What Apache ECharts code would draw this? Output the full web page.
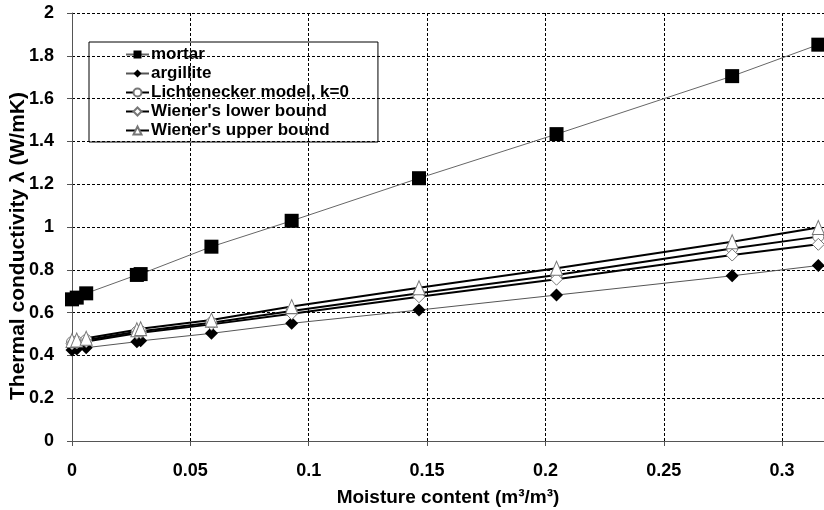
<!DOCTYPE html>
<html>
    <head>
        <meta charset="UTF-8">
        <title>Thermal conductivity vs moisture</title>
        <script type="text/javascript" src="https://cdn.jsdelivr.net/npm/echarts@6/dist/echarts.min.js"></script>
        <style>
            html, body { margin: 0; padding: 0; background: #fff; }
            #main { width: 824px; height: 510px; }
        </style>
    </head>
    <body>
        <div id="main"></div>
        <script type="text/javascript">
        // moisture content (m3/m3)
        var moisture = [0, 0.002, 0.006, 0.0274, 0.029, 0.0589, 0.0928, 0.1466, 0.2047, 0.2789, 0.3153];
        // measured values
        var mortar = [0.662, 0.67, 0.69, 0.776, 0.78, 0.908, 1.029, 1.228, 1.434, 1.705, 1.852];
        var argillite = [0.425, 0.43, 0.436, 0.464, 0.468, 0.503, 0.55, 0.612, 0.682, 0.772, 0.82];
        // models
        var lichtenecker = [0.462, 0.465, 0.472, 0.51, 0.513, 0.553, 0.608, 0.69, 0.776, 0.90, 0.955];
        var wienerLower = [0.455, 0.458, 0.465, 0.503, 0.506, 0.545, 0.595, 0.674, 0.756, 0.869, 0.919];
        var wienerUpper = [0.47, 0.472, 0.48, 0.52, 0.525, 0.565, 0.628, 0.716, 0.807, 0.931, 0.998];
        var xTicks = [0, 0.05, 0.1, 0.15, 0.2, 0.25, 0.3];

        function pairs(ys) {
            var out = [];
            for (var i = 0; i < moisture.length; i++) {
                out.push([moisture[i], ys[i]]);
            }
            return out;
        }

        var font = 'Liberation Sans, Arial, sans-serif';
        var myChart = echarts.init(document.getElementById('main'));

        var option = {
            animation: false,
            grid: {
                left: 72,
                right: 0,
                top: 13,
                bottom: 69,
                outerBoundsMode: 'none'
            },
            legend: {
                orient: 'vertical',
                left: 89,
                top: 42,
                padding: [4, 29, 3, 36],
                borderColor: '#000',
                borderWidth: 1,
                itemWidth: 23,
                itemHeight: 10,
                itemGap: 2,
                textStyle: { fontFamily: font, fontWeight: 'bold', fontSize: 17, lineHeight: 17, color: '#000', padding: [0, 0, 0, -3] },
                data: ['mortar', 'argillite', 'Lichtenecker model, k=0', "Wiener's lower bound", "Wiener's upper bound"]
            },
            xAxis: {
                type: 'value',
                min: 0,
                max: 0.3177,
                interval: 0.05,
                name: 'Moisture content (m³/m³)',
                nameLocation: 'middle',
                nameGap: 47,
                nameMoveOverlap: false,
                nameTextStyle: { fontFamily: font, fontWeight: 'bold', fontSize: 19, color: '#000' },
                axisLine: { lineStyle: { color: '#555', width: 1 } },
                axisTick: { show: true, length: 5, lineStyle: { color: '#555' } },
                axisLabel: {
                    fontFamily: font, fontWeight: 'bold', fontSize: 18, color: '#000', margin: 21,
                    showMaxLabel: false,
                    formatter: function (v) {
                        for (var i = 0; i < xTicks.length; i++) {
                            if (Math.abs(v - xTicks[i]) < 1e-6) return String(xTicks[i]);
                        }
                        return '';
                    }
                },
                splitLine: { show: true, lineStyle: { color: '#000', type: [3, 2], width: 1 } }
            },
            yAxis: {
                type: 'value',
                min: 0,
                max: 2,
                interval: 0.2,
                name: 'Thermal conductivity λ (W/mK)',
                nameLocation: 'middle',
                nameGap: 43,
                nameMoveOverlap: false,
                nameTextStyle: { fontFamily: font, fontWeight: 'bold', fontSize: 21, color: '#000', padding: [0, 38, 0, 0] },
                axisLine: { show: true, lineStyle: { color: '#555', width: 1 } },
                axisTick: { show: true, length: 5, lineStyle: { color: '#555' } },
                axisLabel: {
                    fontFamily: font, fontWeight: 'bold', fontSize: 18, color: '#000', margin: 18,
                    formatter: function (v) { return String(Math.round(v * 10) / 10); }
                },
                splitLine: { show: true, lineStyle: { color: '#000', type: [3, 2], width: 1 } }
            },
            series: [
                {
                    name: 'mortar',
                    type: 'line',
                    data: pairs(mortar),
                    symbol: 'rect',
                    symbolSize: 14,
                    itemStyle: { color: '#000' },
                    lineStyle: { color: '#666', width: 1 },
                    z: 3
                },
                {
                    name: 'argillite',
                    type: 'line',
                    data: pairs(argillite),
                    symbol: 'diamond',
                    symbolSize: 13,
                    itemStyle: { color: '#000' },
                    lineStyle: { color: '#555', width: 1 },
                    z: 3
                },
                {
                    name: 'Lichtenecker model, k=0',
                    type: 'line',
                    data: pairs(lichtenecker),
                    symbol: 'circle',
                    symbolSize: 11,
                    itemStyle: { color: '#fff', borderColor: '#777', borderWidth: 1 },
                    lineStyle: { color: '#000', width: 2 },
                    z: 4
                },
                {
                    name: "Wiener's lower bound",
                    type: 'line',
                    data: pairs(wienerLower),
                    symbol: 'diamond',
                    symbolSize: 12,
                    itemStyle: { color: '#fff', borderColor: '#777', borderWidth: 1 },
                    lineStyle: { color: '#000', width: 2 },
                    z: 4
                },
                {
                    name: "Wiener's upper bound",
                    type: 'line',
                    data: pairs(wienerUpper),
                    symbol: 'triangle',
                    symbolSize: [12, 14],
                    itemStyle: { color: '#fff', borderColor: '#777', borderWidth: 1 },
                    lineStyle: { color: '#000', width: 2 },
                    z: 4
                }
            ]
        };

        myChart.setOption(option);
        </script>
    </body>
</html>
